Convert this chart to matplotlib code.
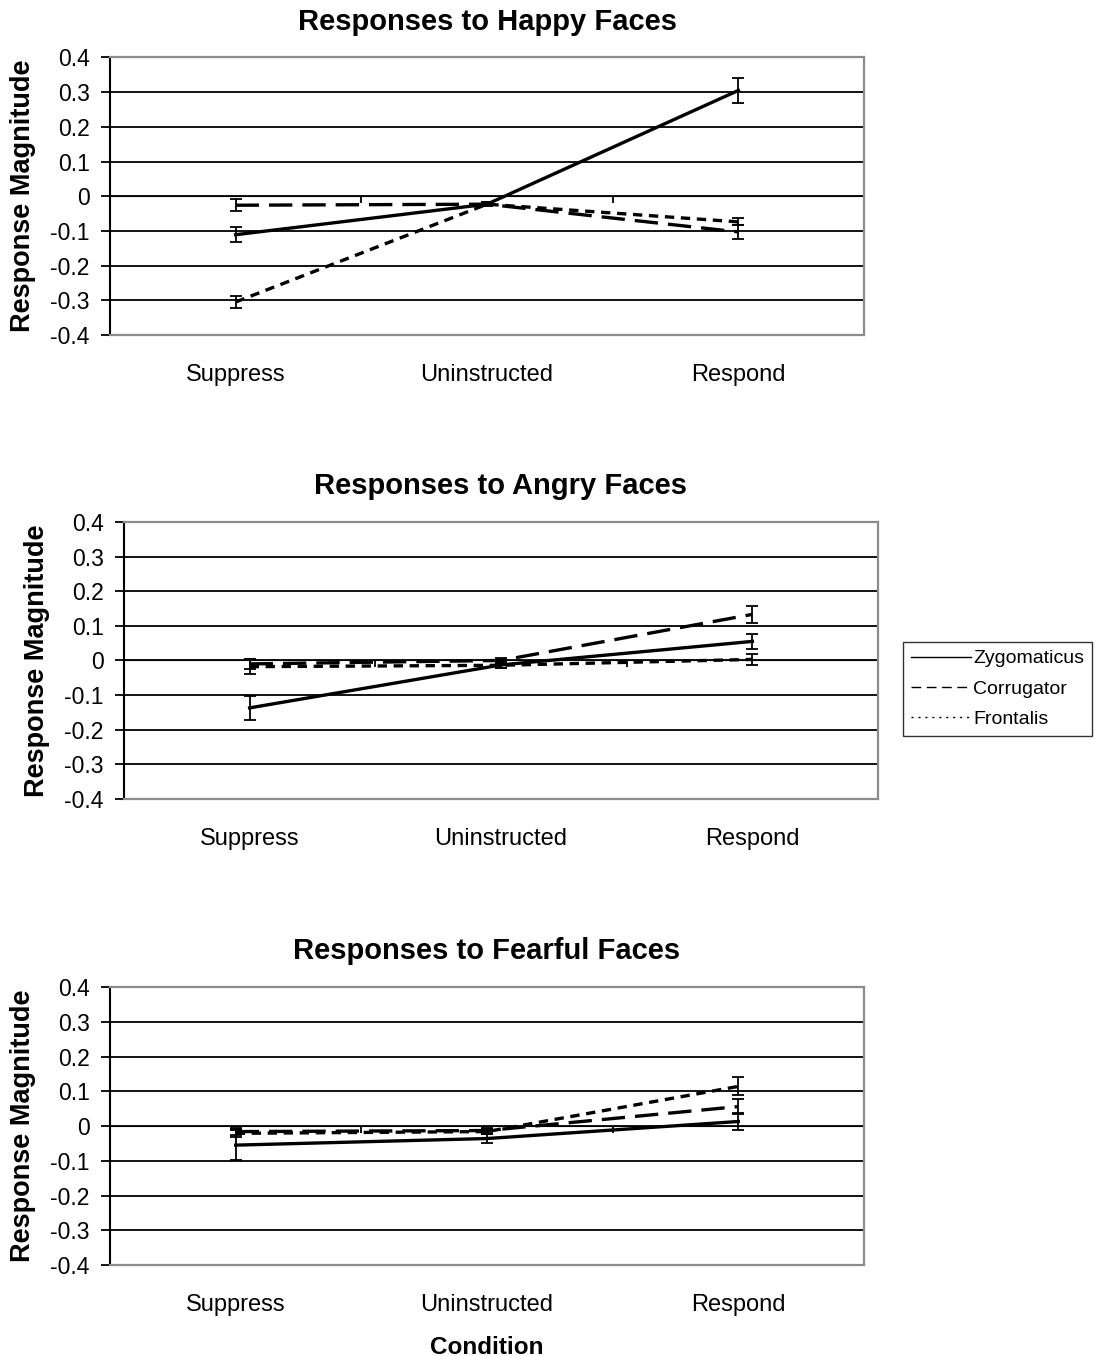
import matplotlib
matplotlib.use("Agg")
import matplotlib.pyplot as plt
from matplotlib.lines import Line2D

plt.rcParams['font.family'] = ['Liberation Sans', 'DejaVu Sans']

conditions = ['Suppress', 'Uninstructed', 'Respond']
muscles = ['Zygomaticus', 'Corrugator', 'Frontalis']
panel_titles = ['Responses to Happy Faces',
                'Responses to Angry Faces',
                'Responses to Fearful Faces']
y_ticks = [-0.4, -0.3, -0.2, -0.1, 0, 0.1, 0.2, 0.3, 0.4]
y_tick_labels = ['-0.4', '-0.3', '-0.2', '-0.1', '0', '0.1', '0.2', '0.3', '0.4']

# happy faces
happy_zyg = [-0.111, -0.023, 0.305]
happy_zyg_err = [0.021, 0.006, 0.035]
happy_cor = [-0.026, -0.023, -0.103]
happy_cor_err = [0.017, 0.006, 0.020]
happy_fro = [-0.305, -0.023, -0.074]
happy_fro_err = [0.017, 0.006, 0.010]

# angry faces
angry_zyg = [-0.137, -0.013, 0.055]
angry_zyg_err = [0.034, 0.008, 0.022]
angry_cor = [-0.010, 0.000, 0.133]
angry_cor_err = [0.015, 0.008, 0.025]
angry_fro = [-0.018, -0.014, 0.003]
angry_fro_err = [0.022, 0.008, 0.017]

# fearful faces
fear_zyg = [-0.055, -0.036, 0.013]
fear_zyg_err = [0.043, 0.013, 0.024]
fear_cor = [-0.016, -0.013, 0.056]
fear_cor_err = [0.010, 0.006, 0.022]
fear_fro = [-0.021, -0.016, 0.114]
fear_fro_err = [0.012, 0.006, 0.026]

panels = [
    [(happy_zyg, happy_zyg_err), (happy_cor, happy_cor_err), (happy_fro, happy_fro_err)],
    [(angry_zyg, angry_zyg_err), (angry_cor, angry_cor_err), (angry_fro, angry_fro_err)],
    [(fear_zyg, fear_zyg_err), (fear_cor, fear_cor_err), (fear_fro, fear_fro_err)],
]

# axes rectangles in figure fractions (left, bottom, width, height)
rects = [
    (0.1001, 0.7530, 0.6861, 0.2046),
    (0.1128, 0.4108, 0.6861, 0.2043),
    (0.1001, 0.0671, 0.6861, 0.2050),
]

styles = ['-', (0, (7, 3)), (0, (2.8, 2))]
legend_styles = ['-', (0, (7, 4)), (0, (1.5, 3.5))]

fig = plt.figure(figsize=(10.99, 13.56), dpi=100)

for i, series in enumerate(panels):
    ax = fig.add_axes(rects[i])
    x = list(range(len(conditions)))

    for (vals, errs), ls in zip(series, styles):
        ax.errorbar(x, vals, yerr=errs, fmt='none', ecolor='black',
                    elinewidth=1.3, capsize=4, capthick=1.3, zorder=3)
        ax.plot(x, vals, color='black', lw=2.4, linestyle=ls, zorder=4)

    ax.set_xlim(-0.5, 2.5)
    ax.set_ylim(-0.4, 0.4)
    ax.set_yticks(y_ticks)
    ax.set_yticklabels(y_tick_labels, fontsize=16.5)
    ax.set_xticks(x)
    ax.set_xticklabels(conditions, fontsize=17)
    ax.tick_params(axis='x', length=0, pad=21)
    ax.tick_params(axis='y', direction='out', length=6.5, width=1.3,
                   color='black', pad=8)

    ax.set_axisbelow(True)
    ax.yaxis.grid(True, color='black', lw=1.3)
    for side in ['top', 'right', 'bottom']:
        ax.spines[side].set_color('#8c8c8c')
        ax.spines[side].set_linewidth(1.6)
    ax.spines['left'].set_color('black')
    ax.spines['left'].set_linewidth(1.5)

    # category axis crossing at zero, tick marks pointing down
    cat_ax = ax.secondary_xaxis(0.5)
    cat_ax.set_xticks([-0.5, 0.5, 1.5, 2.5])
    cat_ax.set_xticklabels(['', '', '', ''])
    cat_ax.tick_params(direction='in', length=5, width=1.3, color='black')
    cat_ax.spines['bottom'].set_color('black')
    cat_ax.spines['bottom'].set_linewidth(1.5)

    ax.set_title(panel_titles[i], fontsize=21, fontweight='bold', pad=20)
    ax.set_ylabel('Response Magnitude', fontsize=19.5, fontweight='bold',
                  labelpad=10)
    if i == 2:
        ax.set_xlabel('Condition', fontsize=17.5, fontweight='bold', labelpad=14)

handles = [Line2D([], [], color='black', lw=1.0, linestyle=ls) for ls in legend_styles]
leg = fig.legend(handles, muscles, loc='upper left',
                 bbox_to_anchor=(903 / 1099, 1 - 642 / 1356),
                 borderaxespad=0, fontsize=14, frameon=True, fancybox=False,
                 edgecolor='black', handlelength=3.1, handletextpad=0.1,
                 borderpad=0.4, labelspacing=0.65)
leg.get_frame().set_linewidth(1.0)

fig.savefig('out.png', dpi=100, facecolor='white')
